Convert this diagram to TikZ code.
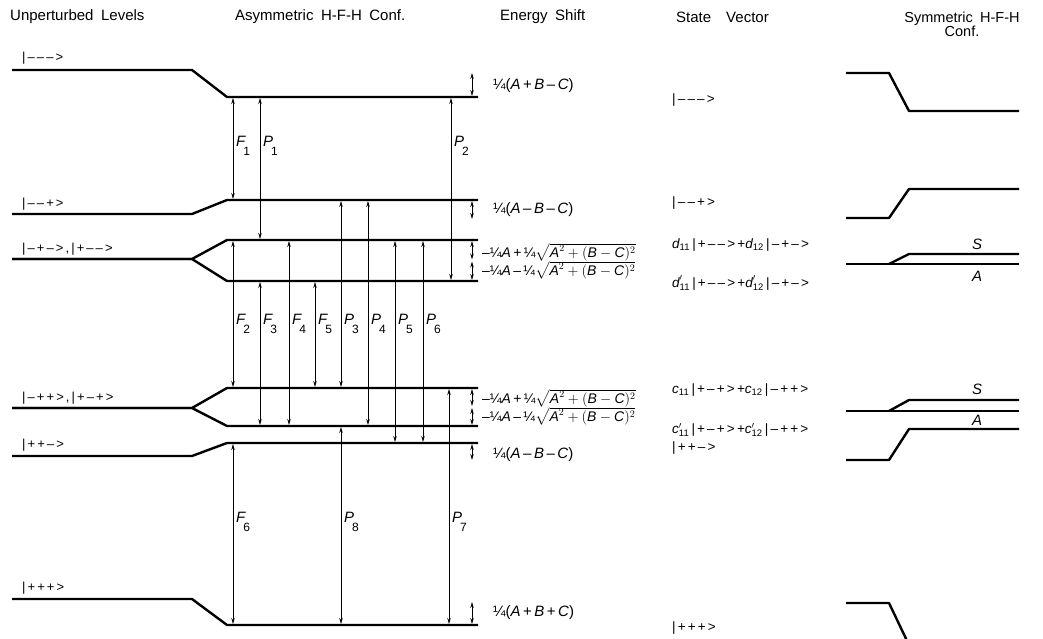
\documentclass[tikz,border=0pt]{standalone}
\usepackage{amsmath}
\usepackage{fontspec}
\setmainfont{Liberation Sans}
\newfontfamily\ketfont[LetterSpace=16]{Liberation Sans}
\usetikzlibrary{arrows.meta,calc}

\tikzset{
  level/.style={line width=2.4pt, line join=round},
  trans/.style={line width=0.8pt, {Stealth[length=6pt,width=3.5pt]}-{Stealth[length=6pt,width=3.5pt]}, shorten <=1pt, shorten >=1pt},
  lbl/.style={font=\fontsize{15}{16}\selectfont, anchor=west, inner sep=1pt},
  hdr/.style={font=\fontsize{15}{16}\selectfont, anchor=west, inner sep=0pt},
  ket/.style={font=\ketfont\fontsize{13}{14}\selectfont, anchor=base west, inner sep=0pt},
  eshift/.style={font=\fontsize{15}{16}\selectfont, anchor=west, inner sep=0pt},
  eroot/.style={font=\fontsize{14}{18}\selectfont, anchor=west, align=left, inner sep=0pt},
  svec/.style={font=\fontsize{13.5}{14}\selectfont, anchor=west, inner sep=0pt},
}
\newcommand{\tr}[2]{{\itshape #1}\kern-2pt\raisebox{-1.1ex}{\fontsize{12}{12}\selectfont #2}}
\newcommand{\vA}{\text{\itshape A}}
\newcommand{\vB}{\text{\itshape B}}
\newcommand{\vC}{\text{\itshape C}}
\newcommand{\kt}[1]{{\ketfont|#1>}}
\newcommand{\rootterm}{$\sqrt{\vA^2+(\vB-\vC)^2}$}
\newcommand{\rootpair}{–¼\textit{A}\,+\,¼\rootterm\\–¼\textit{A}\,–\,¼\rootterm}

\begin{document}
\begin{tikzpicture}[x=1pt,y=-1pt]
    \useasboundingbox (0,0) rectangle (1043,639);
    \clip (0,0) rectangle (1043,639);

    % Column headers
    \node[hdr] (h1) at (10,17) {Unperturbed\enspace Levels};
    \node[hdr] (h2) at (235,17) {Asymmetric\enspace H-F-H\enspace Conf.};
    \node[hdr] (h3) at (500,17) {Energy\enspace Shift};
    \node[hdr] (h4) at (676,17) {State\enspace\enspace Vector};
    \node[font=\fontsize{14.5}{14}\selectfont, align=center, inner sep=0pt] (h5) at (962,24) {Symmetric\enspace H-F-H\\Conf.};

    % Unperturbed levels
    \coordinate (u1) at (12,70);
    \coordinate (u2) at (12,214);
    \coordinate (u3) at (12,259);
    \coordinate (u5) at (12,408);
    \coordinate (u7) at (12,456);
    \coordinate (u8) at (12,599);

    % Asymmetric levels
    \coordinate (a1) at (227,97);
    \coordinate (a2) at (227,200);
    \coordinate (a3) at (227,240);
    \coordinate (a4) at (227,281);
    \coordinate (a5) at (227,388);
    \coordinate (a6) at (227,426);
    \coordinate (a7) at (227,443);
    \coordinate (a8) at (227,625);

    \foreach \u/\a in {u1/a1,u2/a2,u3/a3,u3/a4,u5/a5,u5/a6,u7/a7,u8/a8}
        \draw[level] (\u) -- ++(180,0) -- (\a) -- ++(251,0);

    % Level labels
    \node[ket] (k1) at ($(u1)+(10,-8)$) {|–––>};
    \node[ket] (k2) at ($(u2)+(10,-7)$) {|––+>};
    \node[ket] (k3) at ($(u3)+(10,-7)$) {|–+–>,|+––>};
    \node[ket] (k5) at ($(u5)+(10,-7)$) {|–++>,|+–+>};
    \node[ket] (k7) at ($(u7)+(10,-8)$) {|++–>};
    \node[ket] (k8) at ($(u8)+(10,-8)$) {|+++>};

    % Transitions
    \foreach \dx/\s/\e/\l/\n/\ly in {6/a1/a2/F/1/146, 33/a1/a3/P/1/146, 224/a1/a4/P/2/146,
        6/a3/a5/F/2/324, 33/a4/a6/F/3/324, 62/a3/a6/F/4/324, 88/a4/a5/F/5/324,
        114/a2/a5/P/3/324, 141/a2/a6/P/4/324, 168/a3/a7/P/5/324, 196/a3/a7/P/6/324,
        6/a7/a8/F/6/522, 114/a6/a8/P/8/522, 222/a5/a8/P/7/522} {
        \draw[trans] ([xshift=\dx]\s) -- ([xshift=\dx]\e);
        \node[lbl] (\l\n) at (229+\dx,\ly) {\tr{\l}{\n}};
    }

    % Energy shifts
    \coordinate (m34) at ($(a3)!0.5!(a4)$);
    \coordinate (m56) at ($(a5)!0.5!(a6)$);
    \draw[trans] ([xshift=245,yshift=25]a1) -- ([xshift=245]a1);
    \draw[trans] ([xshift=245]a2) -- ([xshift=245,yshift=-20]a2);
    \draw[trans] ([xshift=245]a3) -- ([xshift=245]m34);
    \draw[trans] ([xshift=245]m34) -- ([xshift=245]a4);
    \draw[trans] ([xshift=245]a5) -- ([xshift=245]m56);
    \draw[trans] ([xshift=245]m56) -- ([xshift=245]a6);
    \draw[trans] ([xshift=245]a7) -- ([xshift=245,yshift=-18]a7);
    \draw[trans] ([xshift=245,yshift=24]a8) -- ([xshift=245]a8);

    \node[eshift] (s1) at (493,86) {¼(\textit{A}\,+\,\textit{B}\,–\,\textit{C})};
    \node[eshift] (s2) at (493,210) {¼(\textit{A}\,–\,\textit{B}\,–\,\textit{C})};
    \node[eroot] (s34) at (482,261) {\rootpair};
    \node[eroot] (s56) at (482,407) {\rootpair};
    \node[eshift] (s7) at (493,455) {¼(\textit{A}\,–\,\textit{B}\,–\,\textit{C})};
    \node[eshift] (s8) at (493,613) {¼(\textit{A}\,+\,\textit{B}\,+\,\textit{C})};

    % State vectors
    \node[svec] (v1) at (672,100) {\kt{–––}};
    \node[svec] (v2) at (672,203) {\kt{––+}};
    \node[svec] (v3) at (672,245) {$\text{\itshape d}_{\text{11}}$\,\kt{+––}\,+$\text{\itshape d}_{\text{12}}$\,\kt{–+–}};
    \node[svec] (v4) at (672,283) {$\text{\itshape d}'_{\text{11}}$\,\kt{+––}\,+$\text{\itshape d}'_{\text{12}}$\,\kt{–+–}};
    \node[svec] (v5) at (672,390) {$\text{\itshape c}_{\text{11}}$\,\kt{+–+}\,+$\text{\itshape c}_{\text{12}}$\,\kt{–++}};
    \node[svec] (v6) at (672,430) {$\text{\itshape c}'_{\text{11}}$\,\kt{+–+}\,+$\text{\itshape c}'_{\text{12}}$\,\kt{–++}};
    \node[svec] (v7) at (672,448) {\kt{++–}};
    \node[svec] (v8) at (672,628) {\kt{+++}};

    % Symmetric levels
    \draw[level] (846,73) -- (889,73) -- (909,111) -- (1019,111);
    \draw[level] (846,218) -- (889,218) -- (909,189) -- (1019,189);
    \draw[level] (846,264) -- (1019,264);
    \draw[level] (889,264) -- (909,254) -- (1019,254);
    \draw[level] (846,411) -- (1019,411);
    \draw[level] (889,411) -- (909,400) -- (1019,400);
    \draw[level] (846,460) -- (889,460) -- (909,429) -- (1019,429);
    \draw[level] (846,603) -- (889,603) -- (909,645);

    \node[lbl, anchor=center] (S1) at (977,244) {\itshape S};
    \node[lbl, anchor=center] (A1) at (977,276) {\itshape A};
    \node[lbl, anchor=center] (S2) at (977,389) {\itshape S};
    \node[lbl, anchor=center] (A2) at (977,420) {\itshape A};
\end{tikzpicture}
\end{document}
